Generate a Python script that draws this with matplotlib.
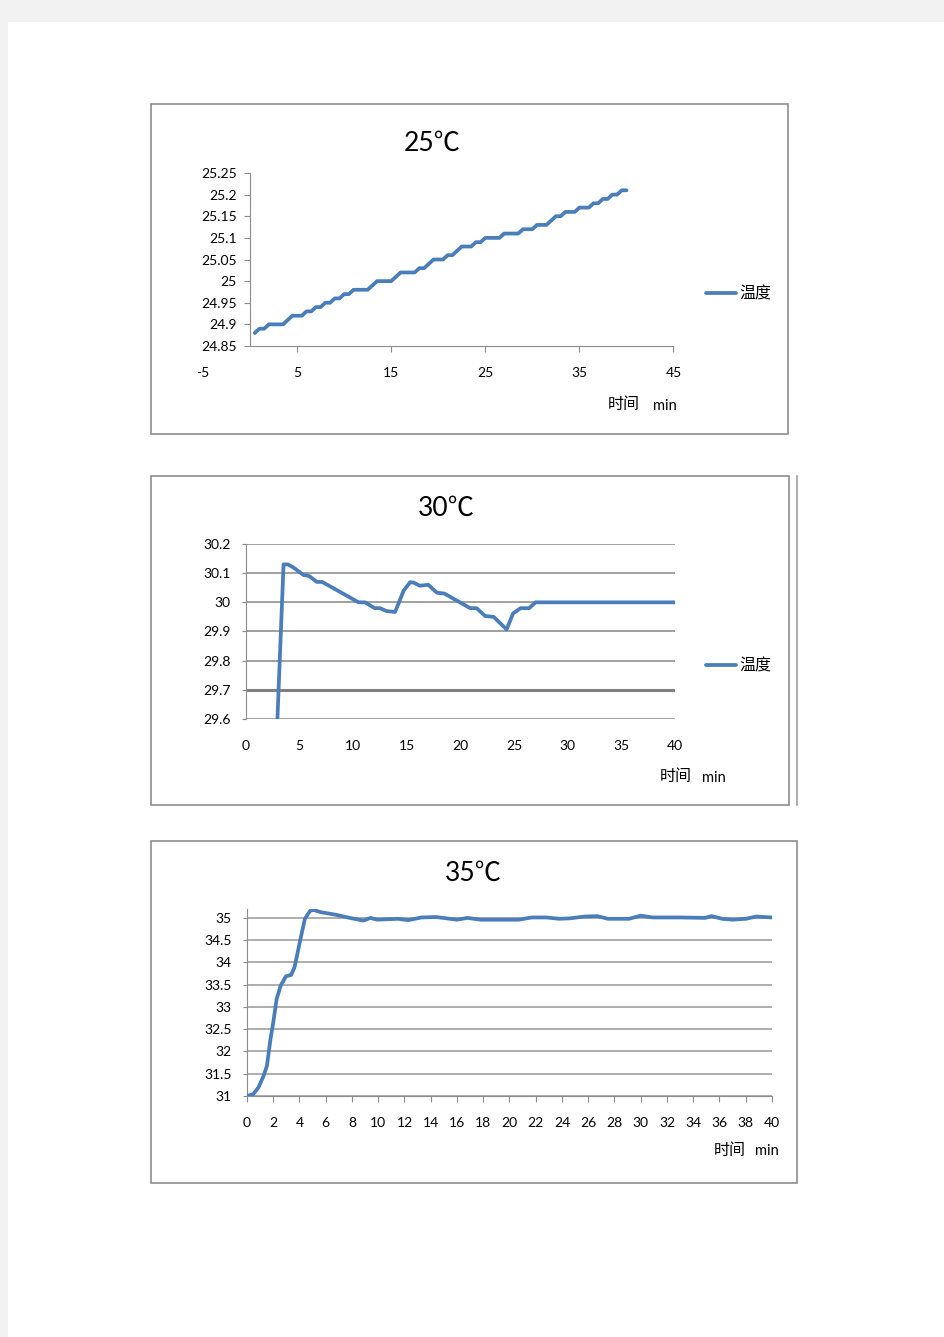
import matplotlib
matplotlib.use("Agg")
import matplotlib.pyplot as plt
from matplotlib.patches import Rectangle
from matplotlib.lines import Line2D

plt.rcParams['font.family'] = ['Lato', 'Noto Sans CJK SC', 'DejaVu Sans']
plt.rcParams['axes.unicode_minus'] = False

# ---- data ----
# 25 C run, every half minute
t25 = [0.5, 1.0, 1.5, 2.0, 2.5, 3.0, 3.5, 4.0, 4.5, 5.0,
       5.5, 6.0, 6.5, 7.0, 7.5, 8.0, 8.5, 9.0, 9.5, 10.0,
       10.5, 11.0, 11.5, 12.0, 12.5, 13.0, 13.5, 14.0, 14.5, 15.0,
       15.5, 16.0, 16.5, 17.0, 17.5, 18.0, 18.5, 19.0, 19.5, 20.0,
       20.5, 21.0, 21.5, 22.0, 22.5, 23.0, 23.5, 24.0, 24.5, 25.0,
       25.5, 26.0, 26.5, 27.0, 27.5, 28.0, 28.5, 29.0, 29.5, 30.0,
       30.5, 31.0, 31.5, 32.0, 32.5, 33.0, 33.5, 34.0, 34.5, 35.0,
       35.5, 36.0, 36.5, 37.0, 37.5, 38.0, 38.5, 39.0, 39.5, 40.0]
temp25 = [24.88, 24.89, 24.89, 24.90, 24.90, 24.90, 24.90, 24.91, 24.92, 24.92,
          24.92, 24.93, 24.93, 24.94, 24.94, 24.95, 24.95, 24.96, 24.96, 24.97,
          24.97, 24.98, 24.98, 24.98, 24.98, 24.99, 25.00, 25.00, 25.00, 25.00,
          25.01, 25.02, 25.02, 25.02, 25.02, 25.03, 25.03, 25.04, 25.05, 25.05,
          25.05, 25.06, 25.06, 25.07, 25.08, 25.08, 25.08, 25.09, 25.09, 25.10,
          25.10, 25.10, 25.10, 25.11, 25.11, 25.11, 25.11, 25.12, 25.12, 25.12,
          25.13, 25.13, 25.13, 25.14, 25.15, 25.15, 25.16, 25.16, 25.16, 25.17,
          25.17, 25.17, 25.18, 25.18, 25.19, 25.19, 25.20, 25.20, 25.21, 25.21]

# 30 C run
t30 = [2.5, 3.5, 3.9, 4.4, 5.35, 5.9, 6.6, 7.1, 10.5, 11.1, 12.0, 12.5, 13.1,
       13.9, 14.7, 15.3, 15.6, 16.2, 17.0, 17.8, 18.5, 20.9, 21.5, 22.3, 23.1,
       24.3, 24.9, 25.6, 26.4, 27.0, 40.0]
temp30 = [29.20, 30.13, 30.13, 30.12, 30.094, 30.09, 30.07, 30.07, 30.0, 30.0,
          29.98, 29.98, 29.97, 29.967, 30.04, 30.069, 30.068, 30.057, 30.06,
          30.033, 30.03, 29.98, 29.98, 29.953, 29.95, 29.907, 29.962, 29.98,
          29.98, 30.0, 30.0]

# 35 C run
t35 = [0.0, 0.47, 0.87, 1.26, 1.52, 1.79, 2.0, 2.26, 2.57, 2.97, 3.36, 3.62,
       4.02, 4.41, 4.81, 5.07, 5.6, 6.78, 7.83, 8.88, 9.4, 9.93, 11.5, 12.3,
       13.3, 14.4, 16.0, 16.8, 17.8, 20.7, 21.7, 22.8, 23.8, 24.6, 25.7, 26.7,
       27.5, 29.1, 30.0, 30.9, 33.0, 34.9, 35.4, 36.2, 37.0, 38.0, 38.8, 40.0]
temp35 = [31.0, 31.04, 31.19, 31.45, 31.68, 32.28, 32.65, 33.18, 33.48, 33.69,
          33.72, 33.89, 34.45, 34.98, 35.16, 35.18, 35.13, 35.07, 35.0, 34.94,
          35.0, 34.96, 34.98, 34.95, 35.01, 35.02, 34.96, 35.0, 34.96, 34.96,
          35.01, 35.01, 34.98, 34.99, 35.03, 35.04, 34.98, 34.98, 35.05, 35.01,
          35.01, 35.0, 35.04, 34.98, 34.96, 34.98, 35.03, 35.01]

series_name = '温度'
xlabel_cn = '时间'
xlabel_unit = 'min'

W, H = 945, 1337
blue = '#4a7ebb'
frame = '#8c8c8c'
grid = '#a0a0a0'
line_kw = dict(color=blue, lw=2.7, solid_joinstyle='round', solid_capstyle='round')


def rect(x0, y0, x1, y1):
    return [x0 / W, 1 - y1 / H, (x1 - x0) / W, (y1 - y0) / H]


def fx(x):
    return x / W


def fy(y):
    return 1 - y / H


fig = plt.figure(figsize=(9.45, 13.37), dpi=100, facecolor='#f2f2f2')
fig.add_artist(Rectangle((fx(8), 0), 1, fy(22), transform=fig.transFigure,
                         facecolor='white', edgecolor='none', zorder=-3))

# chart frames
for (x0, y0, x1, y1) in [(151, 104, 788, 434), (151, 476, 789, 805), (151, 841, 797, 1183)]:
    fig.add_artist(Rectangle((fx(x0), fy(y1)), (x1 - x0) / W, (y1 - y0) / H,
                             transform=fig.transFigure, facecolor='white',
                             edgecolor=frame, lw=1.2, zorder=-2))
fig.add_artist(Line2D([fx(797.5)] * 2, [fy(476), fy(805)], transform=fig.transFigure,
                      color='#a0a0a0', lw=1.2, zorder=-1))

title_kw = dict(fontsize=19, ha='center', va='center', color='black')
cn_kw = dict(fontsize=11.5, ha='center', va='center')
unit_kw = dict(fontsize=10.5, ha='center', va='center')
leg_kw = dict(frameon=False, fontsize=11.5, handlelength=1.9, handletextpad=0.2,
              borderpad=0, borderaxespad=0, loc='center left')

# ---------- 25 C ----------
ax1 = fig.add_axes(rect(203, 173, 673.5, 346))
ax1.plot(t25, temp25, label=series_name, **line_kw)
ax1.set_xlim(-5, 45)
ax1.set_ylim(24.85, 25.25)
ax1.set_xticks([-5, 5, 15, 25, 35, 45])
ax1.set_yticks([24.85, 24.9, 24.95, 25, 25.05, 25.1, 25.15, 25.2, 25.25])
ax1.set_yticklabels(['24.85', '24.9', '24.95', '25', '25.05', '25.1', '25.15', '25.2', '25.25'])
ax1.spines['top'].set_visible(False)
ax1.spines['right'].set_visible(False)
ax1.spines['left'].set_position(('data', 0))
ax1.spines['bottom'].set_bounds(0, 45)
for s in ('left', 'bottom'):
    ax1.spines[s].set_color(frame)
ax1.tick_params(axis='x', length=4, color=frame, pad=11, labelsize=10)
ax1.tick_params(axis='y', length=4.5, color=frame, pad=5, labelsize=10)
ax1.xaxis.get_major_ticks()[0].tick1line.set_visible(False)
ax1.patch.set_alpha(0)
ax1.legend(bbox_to_anchor=(fx(706), fy(294)), bbox_transform=fig.transFigure, **leg_kw)
fig.text(fx(432), fy(143), '25℃', **title_kw)
fig.text(fx(624), fy(405), xlabel_cn, **cn_kw)
fig.text(fx(665), fy(406), xlabel_unit, **unit_kw)

# ---------- 30 C ----------
ax2 = fig.add_axes(rect(246, 544, 675, 719))
ax2.plot(t30, temp30, label=series_name, zorder=3, **line_kw)
ax2.set_xlim(0, 40)
ax2.set_ylim(29.6, 30.2)
ax2.set_xticks(range(0, 41, 5))
ax2.set_yticks([29.6, 29.7, 29.8, 29.9, 30.0, 30.1, 30.2])
ax2.set_yticklabels(['29.6', '29.7', '29.8', '29.9', '30', '30.1', '30.2'])
ax2.grid(axis='y', color=grid, lw=1.4)
ax2.axhline(29.7, color='#808080', lw=2.2, zorder=2)
for s in ('top', 'right', 'bottom'):
    ax2.spines[s].set_visible(False)
ax2.spines['left'].set_color(frame)
ax2.tick_params(axis='x', length=0, pad=15, labelsize=10)
ax2.tick_params(axis='y', length=3, color=frame, pad=8, labelsize=10)
ax2.patch.set_alpha(0)
ax2.legend(bbox_to_anchor=(fx(706), fy(666)), bbox_transform=fig.transFigure, **leg_kw)
fig.text(fx(446), fy(508), '30℃', **title_kw)
fig.text(fx(676), fy(777), xlabel_cn, **cn_kw)
fig.text(fx(714), fy(778), xlabel_unit, **unit_kw)

# ---------- 35 C ----------
ax3 = fig.add_axes(rect(247, 909, 772, 1096))
ax3.plot(t35, temp35, zorder=3, **line_kw)
ax3.set_xlim(0, 40)
ax3.set_ylim(31, 35.2)
ax3.set_xticks(range(0, 41, 2))
ax3.set_yticks([31, 31.5, 32, 32.5, 33, 33.5, 34, 34.5, 35])
ax3.set_yticklabels(['31', '31.5', '32', '32.5', '33', '33.5', '34', '34.5', '35'])
ax3.grid(axis='y', color=grid, lw=1.2)
ax3.spines['top'].set_visible(False)
ax3.spines['right'].set_visible(False)
for s in ('left', 'bottom'):
    ax3.spines[s].set_color(frame)
ax3.tick_params(axis='x', length=4, color=frame, pad=11, labelsize=10)
ax3.tick_params(axis='y', length=3, color=frame, pad=8, labelsize=10)
ax3.patch.set_alpha(0)
fig.text(fx(473), fy(873), '35℃', **title_kw)
fig.text(fx(730), fy(1151), xlabel_cn, **cn_kw)
fig.text(fx(767), fy(1151), xlabel_unit, **unit_kw)

fig.savefig('out.png', dpi=100, facecolor=fig.get_facecolor())
